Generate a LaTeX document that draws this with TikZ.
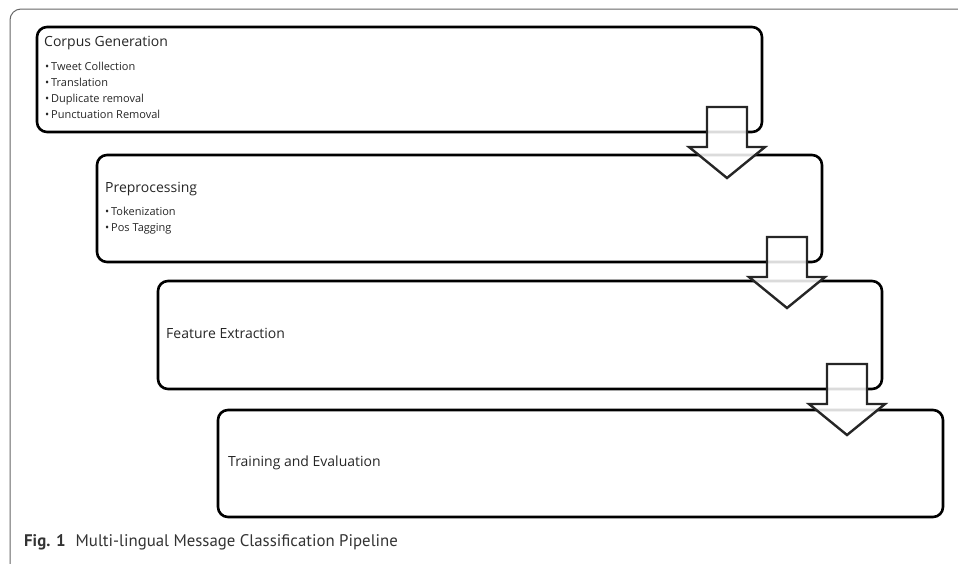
\documentclass[tikz,border=0pt]{standalone}
\usepackage{fontspec}
\setmainfont{Open Sans}
\newfontfamily\captionfont{PT Sans}
\begin{document}
\begin{tikzpicture}[x=1pt,y=-1pt,
  stagebox/.style={draw=black,line width=2.6pt,rounded corners=10pt,fill=none},
  blockarrow/.style={draw=black!85,line width=2.4pt,fill=white,fill opacity=0.86,line join=miter},
  frameline/.style={draw=black!60,line width=1pt,rounded corners=11pt},
  titletext/.style={anchor=west,inner sep=0pt,text height=1.5ex,text depth=0.3ex,
    font=\fontsize{14}{16}\selectfont,text=black!85},
  itemtext/.style={anchor=west,inner sep=0pt,text height=1.5ex,text depth=0.3ex,
    font=\fontsize{11}{13}\selectfont,text=black!85}]
\useasboundingbox (0,0) rectangle (958,563);
\clip (0,0) rectangle (958,563);
% outer figure frame
\draw[frameline] (970,9) -- (10,9) -- (10,575) -- (970,575);

% stage boxes
\draw[stagebox] (37,27) rectangle (762,132);
\draw[stagebox] (97,155) rectangle (822,262);
\draw[stagebox] (158,281) rectangle (882,389);
\draw[stagebox] (218,410) rectangle (943,517);

% box texts
\node[titletext] (t1) at (44,43) {Corpus Generation};
\node[itemtext] (i11) at (45,67) {\textbullet\,Tweet Collection};
\node[itemtext] (i12) at (45,83) {\textbullet\,Translation};
\node[itemtext] (i13) at (45,99) {\textbullet\,Duplicate removal};
\node[itemtext] (i14) at (45,115) {\textbullet\,Punctuation Removal};

\node[titletext] (t2) at (105,189) {Preprocessing};
\node[itemtext] (i21) at (105,212) {\textbullet\,Tokenization};
\node[itemtext] (i22) at (105,228) {\textbullet\,Pos Tagging};

\node[titletext] (t3) at (166,335) {Feature Extraction};
\node[titletext] (t4) at (228,463) {Training and Evaluation};

% block arrows between consecutive stages
\foreach \cx/\by in {727/132, 787/262, 847/389}{
  \draw[blockarrow]
    (\cx-20,\by-25) -- (\cx+20,\by-25) -- (\cx+20,\by+15) -- (\cx+38,\by+15)
    -- (\cx,\by+46) -- (\cx-38,\by+15) -- (\cx-20,\by+15) -- cycle;
}

% caption
\node[anchor=west,inner sep=0pt,font=\captionfont\fontsize{16.8}{19}\selectfont,text=black!80] (cap) at (24,542)
  {\textbf{Fig. 1}\hspace{0.6em}Multi-lingual Message Classification Pipeline};
\end{tikzpicture}
\end{document}
